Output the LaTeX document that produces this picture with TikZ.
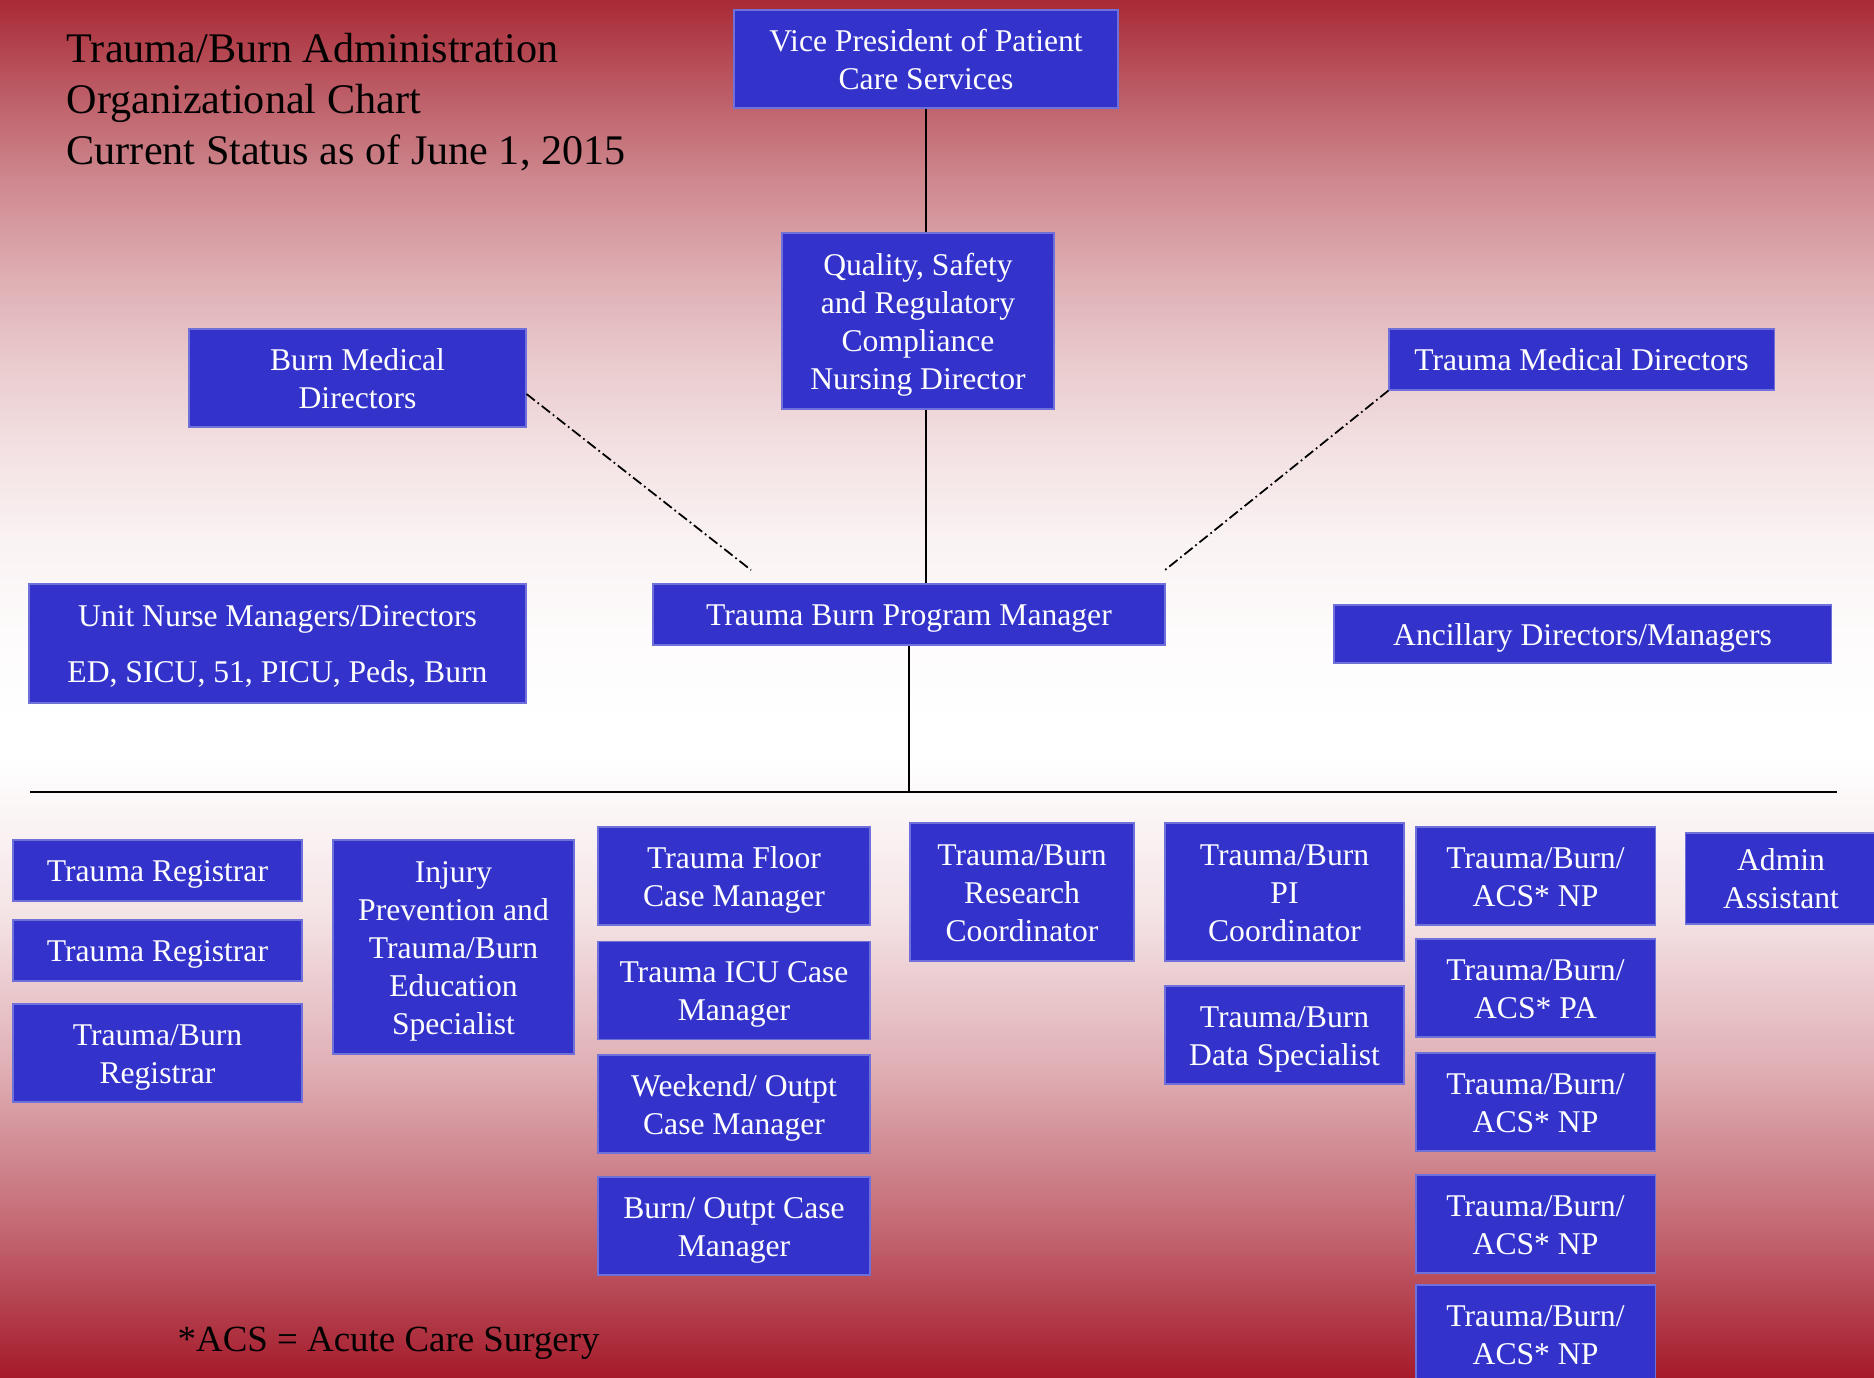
\documentclass[tikz,border=0pt]{standalone}
\usepackage{fontspec}
\setmainfont{Liberation Serif}
\usetikzlibrary{positioning}

\definecolor{bgtop}{RGB}{168,42,54}
\definecolor{bgbot}{RGB}{165,26,42}
\definecolor{boxblue}{RGB}{51,51,204}

% slide background: dark red at top and bottom, white below the middle
\pgfdeclareverticalshading{slidebg}{100bp}{color(0bp)=(bgbot); color(25bp)=(bgbot);
    color(27.83bp)=(bgbot!82!white); color(30.62bp)=(bgbot!65!white);
    color(36.25bp)=(bgbot!35!white); color(41.87bp)=(bgbot!12!white);
    color(47.5bp)=(white); color(48.88bp)=(white);
    color(52.14bp)=(bgtop!2!white); color(55.41bp)=(bgtop!6!white);
    color(58.67bp)=(bgtop!14!white); color(61.94bp)=(bgtop!25!white);
    color(65.2bp)=(bgtop!39!white); color(68.47bp)=(bgtop!56!white);
    color(71.73bp)=(bgtop!77!white); color(75bp)=(bgtop); color(100bp)=(bgtop)}

% keeps the text of every box at the same height
\newcommand{\boxstrut}{\rule[-2pt]{0pt}{10.4pt}}

\begin{document}
\begin{tikzpicture}[
    post/.style={fill=boxblue, draw=boxblue!70!white, line width=0.3pt,
        text=white, align=center, inner sep=0pt,
        font={\fontsize{9}{10.8}\selectfont},
        execute at begin node=\boxstrut, execute at end node=\boxstrut},
    title/.style={align=left, anchor=north west, inner sep=0pt,
        font={\fontsize{12}{14.45}\selectfont}},
    link/.style={black, line width=0.6pt},
    dotlink/.style={black, line width=0.5pt, densely dashdotted},
    ]
    % Background
    \useasboundingbox (0,0) rectangle (18.74,-13.78);
    \shade[shading=slidebg] (0,0) rectangle (18.74,-13.78);

    % Title
    \node[title] (title) at (0.66,-0.33) {Trauma/Burn Administration\\Organizational Chart\\Current Status as of June 1, 2015};
    \node[anchor=base west, inner sep=0pt, font={\fontsize{10.5}{12}\selectfont}] (note) at (1.77,-13.51) {*ACS = Acute Care Surgery};

    % Upper levels
    \node[post, minimum width=3.84cm, minimum height=0.98cm] (vp) at (9.26,-0.59) {\boxstrut Vice President of Patient\\Care Services};
    \node[post, minimum width=2.72cm, minimum height=1.76cm] (qsr) at (9.18,-3.21) {\boxstrut Quality, Safety\\and Regulatory\\Compliance\\Nursing Director};
    \node[post, minimum width=3.37cm, minimum height=0.98cm] (bmd) at (3.575,-3.78) {\boxstrut Burn Medical\\Directors};
    \node[post, minimum width=3.85cm, minimum height=0.61cm] (tmd) at (15.815,-3.595) {Trauma Medical Directors};
    \node[post, minimum width=4.97cm, minimum height=1.19cm] (unm) at (2.775,-6.435) {\boxstrut Unit Nurse Managers/Directors\\[5pt]ED, SICU, 51, PICU, Peds, Burn};
    \node[post, minimum width=5.12cm, minimum height=0.61cm] (tbpm) at (9.09,-6.145) {Trauma Burn Program Manager};
    \node[post, minimum width=4.97cm, minimum height=0.58cm] (anc) at (15.825,-6.34) {Ancillary Directors/Managers};

    % Staff
    \node[post, minimum width=2.89cm, minimum height=0.61cm] (tr1) at (1.575,-8.705) {Trauma Registrar};
    \node[post, minimum width=2.89cm, minimum height=0.61cm] (tr2) at (1.575,-9.505) {Trauma Registrar};
    \node[post, minimum width=2.89cm, minimum height=0.98cm] (tbr) at (1.575,-10.53) {\boxstrut Trauma/Burn\\Registrar};
    \node[post, minimum width=2.41cm, minimum height=2.14cm] (ipe) at (4.535,-9.47) {\boxstrut Injury\\Prevention and\\Trauma/Burn\\Education\\Specialist};
    \node[post, minimum width=2.72cm, minimum height=0.98cm] (tfcm) at (7.34,-8.76) {\boxstrut Trauma Floor\\Case Manager};
    \node[post, minimum width=2.72cm, minimum height=0.98cm] (ticm) at (7.34,-9.905) {\boxstrut Trauma ICU Case\\Manager};
    \node[post, minimum width=2.72cm, minimum height=0.98cm] (wocm) at (7.34,-11.04) {\boxstrut Weekend/ Outpt\\Case Manager};
    \node[post, minimum width=2.72cm, minimum height=0.98cm] (bocm) at (7.34,-12.26) {\boxstrut Burn/ Outpt Case\\Manager};
    \node[post, minimum width=2.24cm, minimum height=1.38cm] (rc) at (10.22,-8.92) {\boxstrut Trauma/Burn\\Research\\Coordinator};
    \node[post, minimum width=2.39cm, minimum height=1.38cm] (pic) at (12.845,-8.92) {\boxstrut Trauma/Burn\\PI\\Coordinator};
    \node[post, minimum width=2.39cm, minimum height=0.98cm] (ds) at (12.845,-10.35) {\boxstrut Trauma/Burn\\Data Specialist};
    \node[post, minimum width=2.39cm, minimum height=0.98cm] (np1) at (15.355,-8.76) {\boxstrut Trauma/Burn/\\ACS* NP};
    \node[post, minimum width=2.39cm, minimum height=0.98cm] (pa) at (15.355,-9.88) {\boxstrut Trauma/Burn/\\ACS* PA};
    \node[post, minimum width=2.39cm, minimum height=0.98cm] (np2) at (15.355,-11.02) {\boxstrut Trauma/Burn/\\ACS* NP};
    \node[post, minimum width=2.39cm, minimum height=0.98cm] (np3) at (15.355,-12.24) {\boxstrut Trauma/Burn/\\ACS* NP};
    \node[post, minimum width=2.39cm, minimum height=0.98cm] (np4) at (15.355,-13.34) {\boxstrut Trauma/Burn/\\ACS* NP};
    \node[post, minimum width=1.92cm, minimum height=0.91cm] (aa) at (17.81,-8.785) {\boxstrut Admin\\Assistant};

    % Lines
    \coordinate (busL) at (0.30,-7.92);
    \coordinate (busR) at (18.37,-7.92);
    \coordinate (dashL) at (7.51,-5.70);
    \coordinate (dashR) at (11.65,-5.70);
    \draw[link] (vp.south) -- (vp.south |- qsr.north);
    \draw[link] (vp.south |- qsr.south) -- (vp.south |- tbpm.north);
    \draw[link] (tbpm.south) -- (tbpm.south |- busL);
    \draw[link] (busL) -- (busR);
    \draw[dotlink] ([yshift=-1.6mm]bmd.east) -- (dashL);
    \draw[dotlink] (tmd.south west) -- (dashR);
\end{tikzpicture}
\end{document}
